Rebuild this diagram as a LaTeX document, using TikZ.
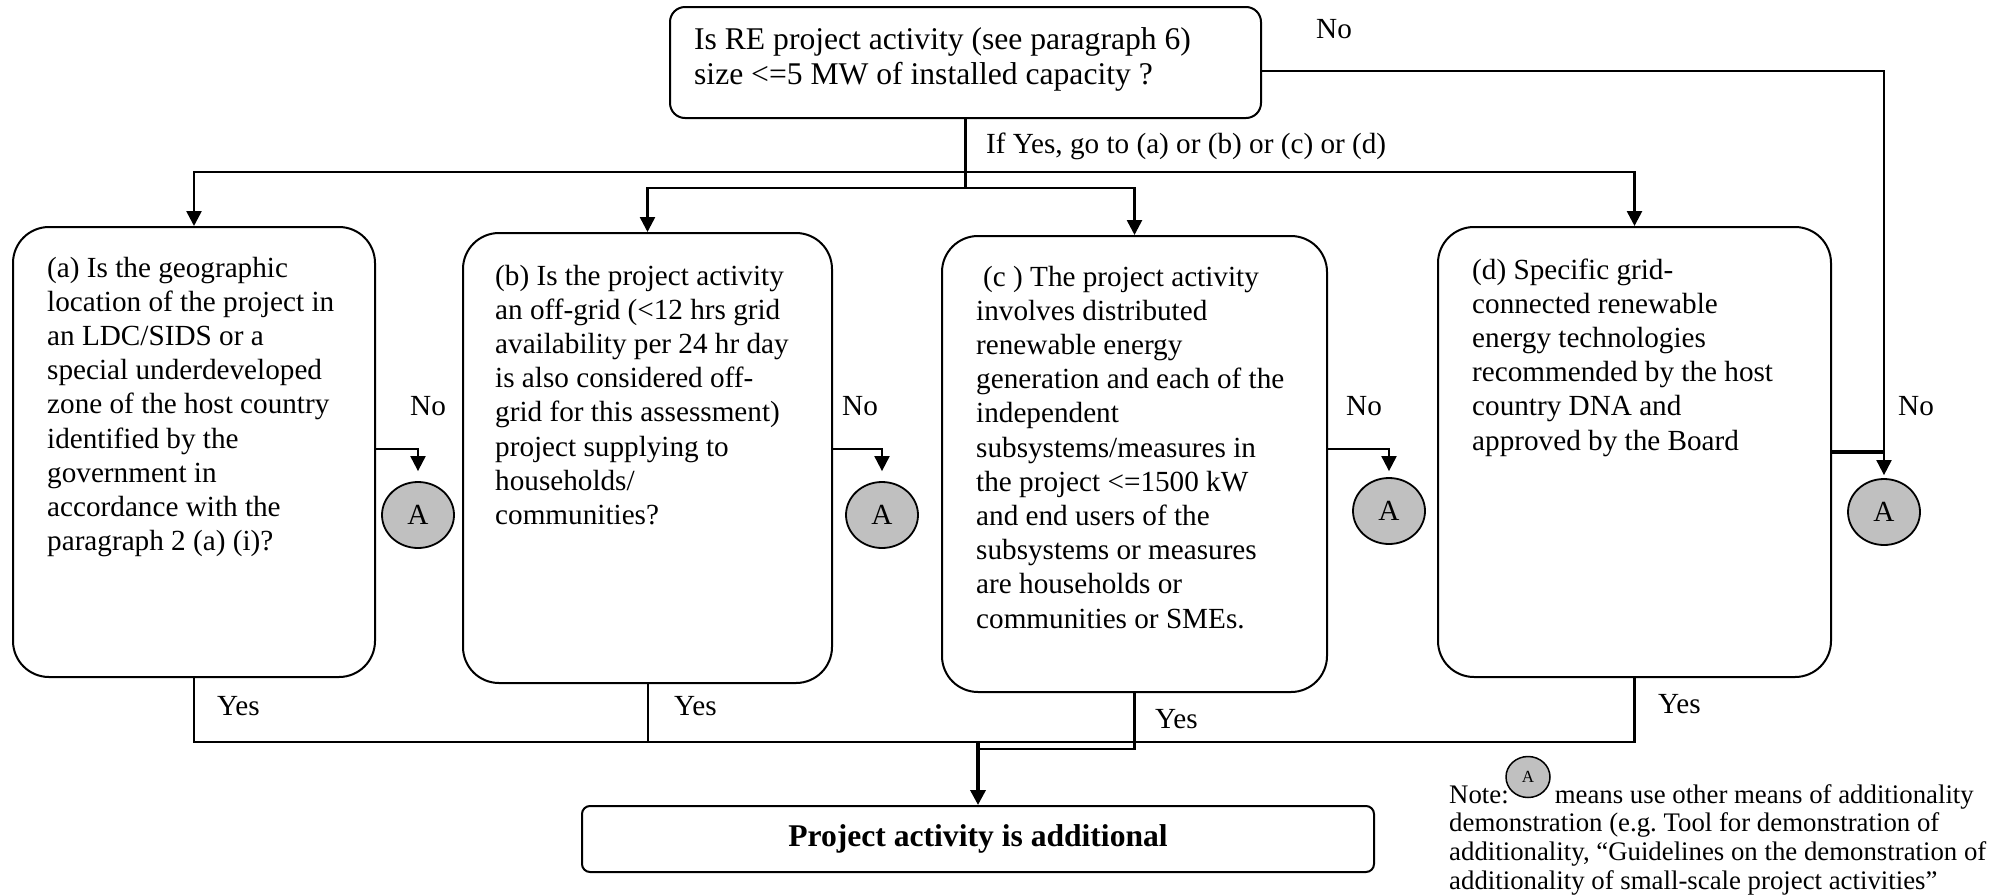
\documentclass[tikz,border=0pt]{standalone}
\usepackage{fontspec}
\setmainfont{Liberation Serif}
\usetikzlibrary{arrows.meta,shapes.geometric}
\definecolor{bubgray}{RGB}{192,192,192}
\frenchspacing
\begin{document}
\begin{tikzpicture}[x=1pt,y=-1pt,
  qbox/.style={draw, line width=2pt, rounded corners=36pt, inner sep=0pt},
  tbox/.style={draw, line width=2pt, inner sep=0pt},
  txt/.style={anchor=base west, inner sep=0pt, font=\fontsize{29.2}{34.2}\selectfont},
  lbl/.style={anchor=base west, inner sep=0pt, font=\fontsize{29.2}{34.2}\selectfont},
  conn/.style={line width=2pt},
  trunk/.style={line width=2.6pt},
  arr/.style={-{Triangle[width=15pt,length=15pt]}},
  abub/.style={ellipse, draw, line width=1.8pt, fill=bubgray, minimum width=72pt, minimum height=66pt, inner sep=0pt, font=\fontsize{29.2}{34.2}\selectfont},
]
\useasboundingbox (0,0) rectangle (2011,895);

% boxes
\node[tbox, rounded corners=15pt, minimum width=591pt, minimum height=111pt] (top) at (965.5,62.5) {};
\node[qbox, minimum width=362pt, minimum height=450pt] (boxa) at (194,452) {};
\node[qbox, minimum width=369pt, minimum height=450pt] (boxb) at (647.5,458) {};
\node[qbox, minimum width=385pt, minimum height=456pt] (boxc) at (1134.5,464) {};
\node[qbox, minimum width=393pt, minimum height=450pt] (boxd) at (1634.5,452) {};
\node[tbox, rounded corners=8pt, minimum width=792pt, minimum height=66pt, font=\bfseries\fontsize{31.6}{36}\selectfont] (final) at (978,839) {Project activity is additional};

% texts
\node[txt, font=\fontsize{31.6}{35}\selectfont] (ttop) at (694,49) {\parbox[t]{700pt}{Is RE project activity (see paragraph 6)\\size <=5 MW of installed capacity ?}};
\node[txt] (ta) at (47,277) {\parbox[t]{500pt}{(a) Is the geographic\\location of the project in\\an LDC/SIDS or a\\special underdeveloped\\zone of the host country\\identified by the\\government in\\accordance with the\\paragraph 2 (a) (i)?}};
\node[txt] (tb) at (495,285) {\parbox[t]{500pt}{(b) Is the project activity\\an off-grid (<12 hrs grid\\availability per 24 hr day\\is also considered off-\\grid for this assessment)\\project supplying to\\households/\\communities?}};
\node[txt] (tc) at (976,286) {\parbox[t]{500pt}{\hspace*{7pt}(c ) The project activity\\involves distributed\\renewable energy\\generation and each of the\\independent\\subsystems/measures in\\the project <=1500 kW\\and end users of the\\subsystems or measures\\are households or\\communities or SMEs.}};
\node[txt] (td) at (1472,279) {\parbox[t]{500pt}{(d) Specific grid-\\connected renewable\\energy technologies\\recommended by the host\\country DNA and\\approved by the Board}};
\node[lbl] (ifyes) at (986,153) {If Yes, go to (a) or (b) or (c) or (d)};

% labels
\node[lbl] (notop) at (1316,38) {No};
\node[lbl] (noa) at (410,415) {No};
\node[lbl] (nob) at (842,415) {No};
\node[lbl] (noc) at (1346,415) {No};
\node[lbl] (nod) at (1898,415) {No};
\node[lbl] (yesa) at (217,715) {Yes};
\node[lbl] (yesb) at (674,715) {Yes};
\node[lbl] (yesc) at (1155,728) {Yes};
\node[lbl] (yesd) at (1658,713) {Yes};

% A bubbles
\node[abub] (A1) at (418,515) {A};
\node[abub] (A2) at (882,515) {A};
\node[abub] (A3) at (1389,511) {A};
\node[abub] (A4) at (1884,512) {A};

% distribution
\coordinate (S1) at (965.5,172);
\coordinate (S2) at (965.5,188);
\draw[trunk] (top.south) -- (S2);
\draw[trunk,arr] (S1) -| (boxa.north);
\draw[trunk,arr] (S1) -| (boxd.north);
\draw[trunk,arr] (S2) -| (boxb.north);
\draw[trunk,arr] (S2) -| (boxc.north);

% No connectors
\draw[conn,arr,shorten >=10pt] ([yshift=3pt]boxa.east) -| (A1.north);
\draw[conn,arr,shorten >=10pt] ([yshift=9pt]boxb.east) -| (A2.north);
\draw[conn,arr,shorten >=6pt] ([yshift=15pt]boxc.east) -| (A3.north);
\draw[conn,arr,shorten >=3pt] ([yshift=-8.5pt]top.east) -| (A4.north);
\draw[line width=3.5pt] (boxd.east) -- (boxd.east -| A4.north);

% Yes connectors
\coordinate (J) at (978,742);
\coordinate (J2) at (978,749);
\draw[trunk] (boxa.south) |- (J);
\draw[trunk] (boxd.south) |- (J);
\draw[conn] (boxb.south) -- (boxb.south |- J);
\draw[trunk] (boxc.south) |- (J2);
\draw[line width=3.5pt,arr] (J) -- (final.north);

% note
\node[anchor=base west, inner sep=0pt, font=\fontsize{26.8}{28.7}\selectfont] (note) at (1449,803) {\parbox[t]{700pt}{Note:\hspace{46pt}means use other means of additionality\\demonstration (e.g. Tool for demonstration of\\additionality, “Guidelines on the demonstration of\\additionality of small-scale project activities”}};
\node[ellipse, draw, line width=1.5pt, fill=bubgray, minimum width=44pt, minimum height=41pt, inner sep=0pt, font=\fontsize{17}{19}\selectfont] (Anote) at (1528,777) {A};
\end{tikzpicture}
\end{document}
